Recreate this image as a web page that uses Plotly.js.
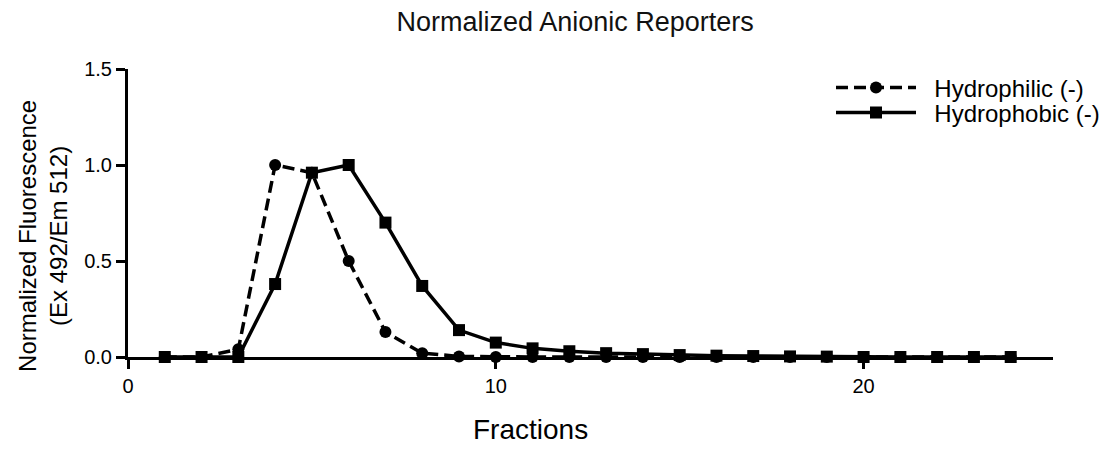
<!DOCTYPE html>
<html>
<head>
<meta charset="utf-8">
<script src="https://cdn.plot.ly/plotly-3.0.1.min.js"></script>
<style>html,body{margin:0;padding:0;background:#fff;}#chart{width:1104px;height:468px;}</style>
</head>
<body>
<div id="chart"></div>
<script>
const fractions = [1,2,3,4,5,6,7,8,9,10,11,12,13,14,15,16,17,18,19,20,21,22,23,24];
const hydrophilic = [0,0,0.04,1.0,0.96,0.5,0.13,0.02,0.003,0,0,0,0,0,0,0,0,0,0,0,0,0,0,0];
const hydrophobic = [0,0,0,0.38,0.96,1.0,0.7,0.37,0.14,0.075,0.045,0.03,0.02,0.015,0.01,0.007,0.005,0.003,0.002,0,0,0,0,0];
const seriesNames = ["Hydrophilic (-)", "Hydrophobic (-)"];
const yTicks = [0, 0.5, 1.0, 1.5];
const xTicks = [0, 10, 20];

const FONT = "Liberation Sans, Arial, Helvetica, sans-serif";
const NB = "\u00a0\u00a0";

const traces = [
  {
    x: fractions, y: hydrophilic, name: NB + seriesNames[0], type: "scatter", mode: "lines+markers",
    line: {color: "#000", width: 3.5, dash: "12px,6px"},
    marker: {symbol: "circle", size: 12, color: "#000"},
    cliponaxis: false, legend: "legend"
  },
  {
    x: fractions, y: hydrophobic, name: NB + seriesNames[1], type: "scatter", mode: "lines+markers",
    line: {color: "#000", width: 3.5},
    marker: {symbol: "square", size: 12, color: "#000"},
    cliponaxis: false, legend: "legend2"
  }
];

const legFont = {family: FONT, size: 24, color: "#000"};

const layout = {
  width: 1104, height: 468,
  paper_bgcolor: "#fff", plot_bgcolor: "#fff",
  margin: {l: 128, r: 51, t: 69, b: 111, pad: 0, autoexpand: false},
  font: {family: FONT, color: "#000", size: 20},
  title: {text: "Normalized Anionic Reporters", font: {family: FONT, size: 27, color: "#111"},
          xref: "container", yref: "container", x: 0.521, y: 1 - 22/468, xanchor: "center", yanchor: "middle"},
  showlegend: true,
  legend: {xref: "container", yref: "container", x: 831/1104, y: 1 - 88/468, xanchor: "left", yanchor: "middle",
           bgcolor: "rgba(0,0,0,0)", font: legFont, itemwidth: 80},
  legend2: {xref: "container", yref: "container", x: 831/1104, y: 1 - 113/468, xanchor: "left", yanchor: "middle",
           bgcolor: "rgba(0,0,0,0)", font: legFont, itemwidth: 80},
  xaxis: {
    range: [0, 25.15], tickvals: xTicks, ticktext: xTicks.map(String),
    showline: true, linecolor: "#000", linewidth: 3, ticks: "outside", ticklen: 9, tickwidth: 3, tickcolor: "#000",
    showgrid: false, zeroline: false, tickfont: {family: FONT, size: 20, color: "#000"}
  },
  yaxis: {
    range: [0, 1.5], tickvals: yTicks, ticktext: yTicks.map(v => v.toFixed(1)),
    showline: true, linecolor: "#000", linewidth: 3, ticks: "outside", ticklen: 9, tickwidth: 3, tickcolor: "#000",
    showgrid: false, zeroline: false, tickfont: {family: FONT, size: 20, color: "#000"}
  },
  annotations: [
    {text: "Fractions", xref: "paper", yref: "paper", x: 0.435, y: -0.253, xanchor: "center", yanchor: "middle",
     showarrow: false, font: {family: FONT, size: 28, color: "#000"}},
    {text: "Normalized Fluorescence<br>(Ex 492/Em 512)", xref: "paper", yref: "paper", x: -0.092, y: 0.42,
     xanchor: "center", yanchor: "middle", textangle: -90, showarrow: false,
     font: {family: FONT, size: 24, color: "#000"}}
  ]
};

Plotly.newPlot("chart", traces, layout, {displayModeBar: false, staticPlot: true});
</script>
</body>
</html>
